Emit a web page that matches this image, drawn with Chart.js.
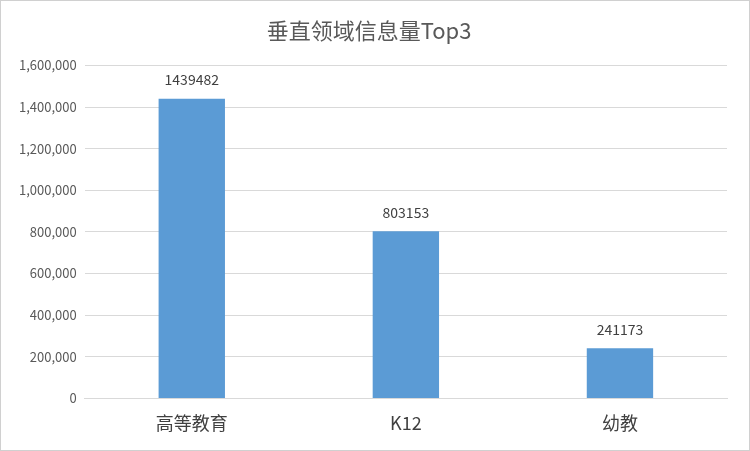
<!DOCTYPE html>
<html><head><meta charset="utf-8">
<script src="https://cdn.jsdelivr.net/npm/chart.js@4"></script>
<style>html,body{margin:0;padding:0;background:#fff}#w{width:748px;height:449px;border:1px solid #d0d0d0}</style>
</head><body><div id="w"><canvas id="c"></canvas></div>
<script>
const categories=['高等教育','K12','幼教'];
const values=[1439482,803153,241173];
const titleText='垂直领域信息量Top3';
const labelPlugin={id:'lbl',afterDatasetsDraw(ch){const ctx=ch.ctx;const m=ch.getDatasetMeta(0);ctx.save();ctx.font='14px "Noto Sans CJK SC", sans-serif';ctx.fillStyle='#404040';ctx.textAlign='center';ctx.textBaseline='bottom';m.data.forEach((b,i)=>ctx.fillText(String(values[i]),b.x,b.y-12));ctx.restore();}};
new Chart(document.getElementById('c'),{type:'bar',
data:{labels:categories,datasets:[{data:values,backgroundColor:'#5b9bd5',barPercentage:0.62,categoryPercentage:0.5}]},
options:{responsive:true,maintainAspectRatio:false,animation:false,
layout:{padding:{left:10,right:22,top:8,bottom:10}},
plugins:{legend:{display:false},tooltip:{enabled:false},
title:{display:true,text:titleText,color:'#595959',font:{size:22,family:'"Noto Sans CJK SC", sans-serif',weight:'normal'},padding:{top:8,bottom:22}}},
scales:{y:{min:0,max:1600000,ticks:{stepSize:200000,color:'#595959',font:{size:13,family:'"Noto Sans CJK SC", sans-serif'},padding:8},grid:{color:'#d9d9d9',drawTicks:false},border:{display:false}},
x:{ticks:{color:'#404040',font:{size:18,family:'"Noto Sans CJK SC", sans-serif'},padding:6},grid:{display:false},border:{color:'#d9d9d9'}}}},
plugins:[labelPlugin]});
</script></body></html>
